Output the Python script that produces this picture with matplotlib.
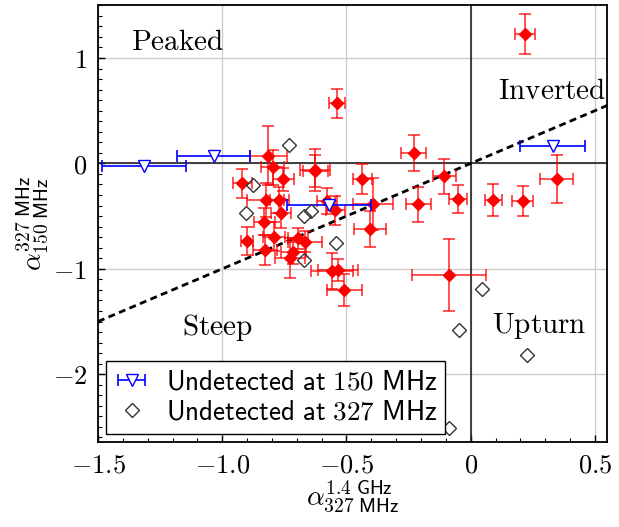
import matplotlib
matplotlib.use("Agg")
import matplotlib.pyplot as plt
import numpy as np

plt.rcParams['mathtext.fontset'] = 'cm'

# ---- data ----
# detected at both frequencies (red)
red_x = [0.217, -0.537, -0.23, -0.814, -0.797, -0.754, -0.626, -0.626, -0.919,
         -0.825, -0.77, -0.765, -0.831, -0.79, -0.899, -0.827, -0.667, -0.694,
         -0.714, -0.727, -0.579, -0.545, -0.436, -0.394, -0.405, -0.559, -0.535,
         -0.508, -0.21, -0.107, -0.051, 0.091, 0.209, 0.346, -0.087]
red_y = [1.232, 0.569, 0.095, 0.072, -0.038, -0.152, -0.064, -0.07, -0.19,
         -0.348, -0.348, -0.475, -0.553, -0.695, -0.737, -0.822, -0.743, -0.711,
         -0.838, -0.9, -0.357, -0.443, -0.152, -0.386, -0.626, -1.021, -1.011,
         -1.2, -0.386, -0.12, -0.34, -0.35, -0.357, -0.15, -1.06]
red_xerr = [0.04, 0.033, 0.05, 0.074, 0.047, 0.042, 0.06, 0.05, 0.038,
            0.074, 0.039, 0.04, 0.042, 0.044, 0.024, 0.048, 0.07, 0.04,
            0.05, 0.06, 0.039, 0.039, 0.037, 0.08, 0.064, 0.084, 0.08,
            0.072, 0.05, 0.046, 0.037, 0.035, 0.042, 0.067, 0.15]
red_yerr = [0.19, 0.14, 0.17, 0.28, 0.17, 0.11, 0.2, 0.15, 0.14,
            0.16, 0.125, 0.14, 0.13, 0.14, 0.13, 0.14, 0.1, 0.1,
            0.12, 0.19, 0.126, 0.138, 0.142, 0.25, 0.17, 0.17, 0.1,
            0.15, 0.166, 0.166, 0.134, 0.15, 0.142, 0.23, 0.34]

# undetected at 150 MHz (blue open triangles)
blue_x = [-1.314, -1.035, -0.57, 0.33]
blue_y = [-0.02, 0.07, -0.395, 0.167]
blue_xerr = [0.17, 0.146, 0.168, 0.132]

# undetected at 327 MHz (open diamonds)
dia_x = [-0.73, -0.877, -0.904, -0.67, -0.642, -0.542, -0.67, 0.047, -0.046, 0.225, -0.086]
dia_y = [0.173, -0.206, -0.474, -0.5, -0.45, -0.758, -0.917, -1.19, -1.58, -1.82, -2.51]

xticks = [-1.5, -1.0, -0.5, 0.0, 0.5]
xticklabels = ['-1.5', '-1.0', '-0.5', '0', '0.5']
yticks = [-2, -1, 0, 1]
yticklabels = ['-2', '-1', '0', '1']

regions = ['Peaked', 'Inverted', 'Steep', 'Upturn']
region_x = [-1.181, 0.326, -1.018, 0.277]
region_y = [1.15, 0.69, -1.56, -1.54]

# ---- figure ----
fig = plt.figure(figsize=(6.19, 5.27), dpi=100)
ax = fig.add_axes([98/619, 1-441.7/527, (607.3-98)/619, (441.7-5.3)/527])

ax.set_xlim(-1.5, 0.55)
ax.set_ylim(-2.64, 1.5)

ax.grid(True, color='#cccccc', lw=1.0, zorder=0)
ax.set_axisbelow(True)
ax.axhline(0, color='#222222', lw=1.2, zorder=1)
ax.axvline(0, color='#222222', lw=1.2, zorder=1)
ax.axline((0, 0), slope=1, color='black', lw=2.0, ls=(0, (2.5, 1.6)), zorder=2)

ax.errorbar(red_x, red_y, xerr=red_xerr, yerr=red_yerr, fmt='D', color='red',
            ms=6.5, ecolor=(1, 0, 0, 0.8), elinewidth=1.2, capsize=4, capthick=1.2,
            zorder=3)
hb = ax.errorbar(blue_x, blue_y, xerr=blue_xerr, fmt='v', color='blue', mfc='white',
                 mec='blue', ms=9, elinewidth=1.2, capsize=4, capthick=1.2, zorder=4)
hd, = ax.plot(dia_x, dia_y, 'D', mfc='none', mec='#333333', mew=1.0, ms=7.5, ls='none',
              zorder=5)

for t, x, y in zip(regions, region_x, region_y):
    ax.text(x, y, r'$\mathrm{%s}$' % t, fontsize=21, ha='center', va='center', zorder=6)

ax.set_xticks(xticks)
ax.set_xticklabels([r'$\mathsf{%s}$' % s for s in xticklabels])
ax.set_yticks(yticks)
ax.set_yticklabels([r'$\mathsf{%s}$' % s for s in yticklabels])
ax.set_xticks(np.arange(-1.5, 0.551, 0.1), minor=True)
ax.set_yticks(np.arange(-2.6, 1.501, 0.1), minor=True)
ax.tick_params(which='both', direction='in', top=False, right=False, labelsize=19)
ax.tick_params(which='major', length=5, width=1.0)
ax.tick_params(which='minor', length=2.8, width=0.8)
ax.tick_params(axis='x', which='major', pad=8)
ax.tick_params(axis='y', which='major', pad=8)
for s in ax.spines.values():
    s.set_linewidth(1.3)

ax.set_xlabel(r'$\alpha^{\mathsf{1.4\ GHz}}_{\mathsf{327\ MHz}}$', fontsize=20, labelpad=0)
ax.set_ylabel(r'$\alpha^{\mathsf{327\ MHz}}_{\mathsf{150\ MHz}}$', fontsize=20, labelpad=2)

leg = ax.legend([hb, hd],
                [r'$\mathsf{Undetected\ at\ 150\ MHz}$', r'$\mathsf{Undetected\ at\ 327\ MHz}$'],
                loc='lower left', fontsize=19.5, fancybox=False, edgecolor='black',
                framealpha=1, borderaxespad=0.3, handletextpad=0.6, borderpad=0.3,
                labelspacing=0.15, handlelength=1.3)
leg.get_frame().set_linewidth(1.0)

fig.savefig('out.png', dpi=100)
